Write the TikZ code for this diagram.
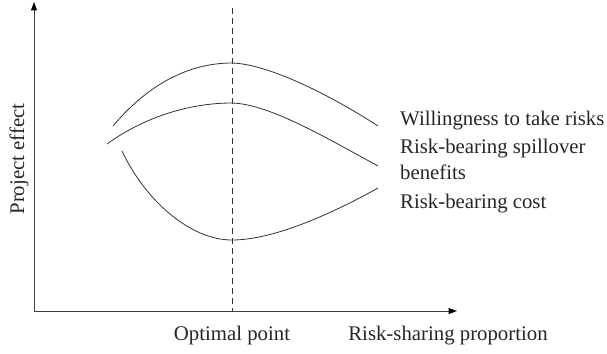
\documentclass[tikz,border=0pt]{standalone}
\usepackage{fontspec}
\setmainfont{Liberation Serif}
\usetikzlibrary{arrows.meta}
\begin{document}
\begin{tikzpicture}[x=1pt,y=-1pt,
  axis/.style={line width=1pt,color=black!75,-{Triangle[length=8.5pt,width=6pt,color=black]}},
  curve/.style={line width=0.8pt,color=black!80},
  lbl/.style={font=\fontsize{20.8}{24}\selectfont,text=black!85,inner sep=0pt}]
\useasboundingbox (0,0) rectangle (607,353);
\coordinate (O) at (34,311);
\coordinate (ytop) at (34,2);
\coordinate (xend) at (457,311);
\draw[axis] (O) -- (ytop);
\draw[axis] (O) -- (xend);
\coordinate (dtop) at (232,8);
\coordinate (dbot) at (232,311);
\draw[line width=0.8pt,black!80,dash pattern=on 6pt off 4pt] (dtop) -- (dbot);
\draw[curve] (113,126) .. controls (145,88) and (185,63) .. (232,63) .. controls (270,64) and (335,98) .. (378,126);
\draw[curve] (107,144) .. controls (140,120) and (185,103) .. (232,103) .. controls (270,104) and (330,140) .. (378,166);
\draw[curve] (122,151) .. controls (145,200) and (190,240) .. (232,240) .. controls (275,240) and (335,212) .. (378,188);
\node[lbl,anchor=base west] (l1) at (400,125) {Willingness to take risks};
\node[lbl,anchor=base west] (l2) at (400,153) {Risk-bearing spillover};
\node[lbl,anchor=base west] (l3) at (400,179) {benefits};
\node[lbl,anchor=base west] (l4) at (400,208) {Risk-bearing cost};
\node[lbl,anchor=base] (op) at (232,340) {Optimal point};
\node[lbl,anchor=base] (rs) at (448,340) {Risk-sharing proportion};
\node[lbl,anchor=base,rotate=90] (pe) at (24,159) {Project effect};
\end{tikzpicture}
\end{document}
